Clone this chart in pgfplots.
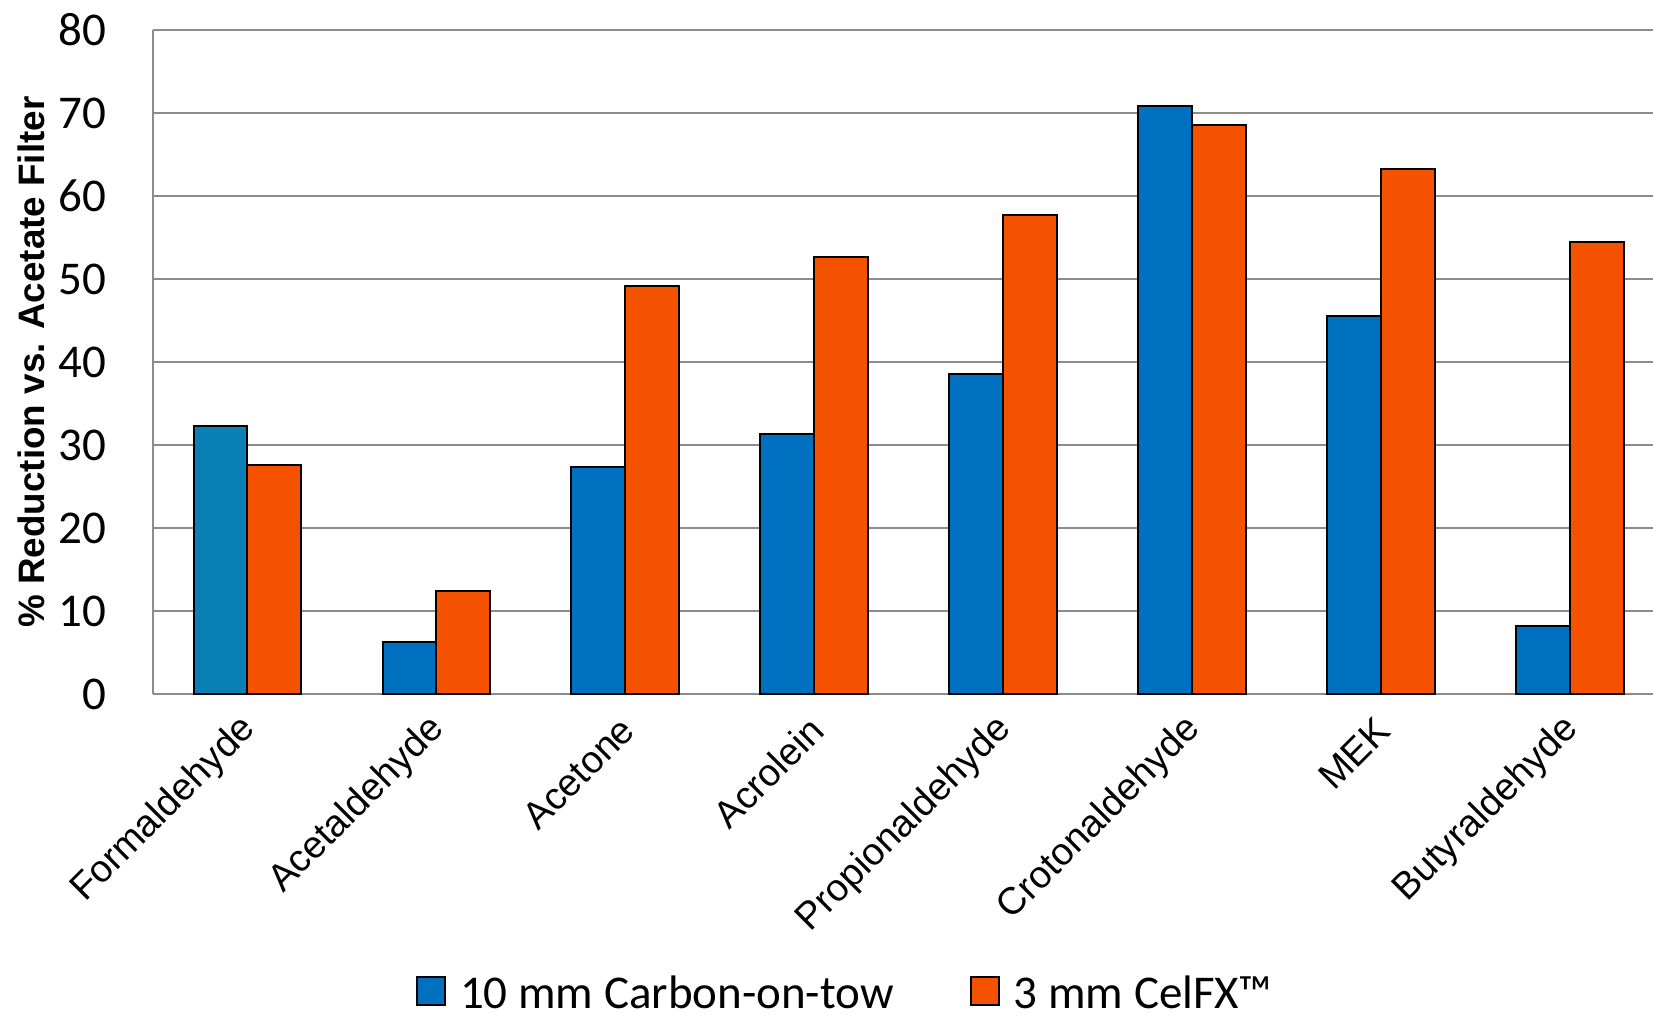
\documentclass[border=0pt]{standalone}
\usepackage{fontspec}
\usepackage{pgfplots}
\pgfplotsset{compat=1.18}
\newfontfamily\carlito{Carlito}
\newfontfamily\arial{Liberation Sans}
\definecolor{cblue}{RGB}{0,112,192}
\definecolor{cblue2}{RGB}{11,128,182}
\definecolor{corange}{RGB}{245,82,0}
\definecolor{gridc}{RGB}{140,140,140}
\begin{document}
\begin{tikzpicture}
\begin{axis}[
 scale only axis, width=750pt, height=332pt,
 xmin=-0.5, xmax=7.44, ymin=0, ymax=80,
 ytick={0,10,...,80},
 xtick={0,...,7},
 xticklabels={Formaldehyde,Acetaldehyde,Acetone,Acrolein,Propionaldehyde,Crotonaldehyde,MEK,Butyraldehyde},
 xticklabel style={rotate=45, anchor=east, font=\arial\fontsize{19}{23}\selectfont, inner sep=0pt, xshift=-9.5pt, yshift=-11.5pt},
 yticklabel style={font=\carlito\fontsize{23.5}{28}\selectfont, /pgf/number format/assume math mode=true, inner sep=0pt, xshift=-23pt, anchor=east},
 ylabel={\% Reduction vs. Acetate Filter},
 ylabel style={font=\arial\bfseries\fontsize{18.4}{22}\selectfont, at={(axis description cs:0,0.5)}, yshift=60.7pt, anchor=center},
 ymajorgrids, major grid style={gridc, line width=1pt},
 axis x line*=bottom, axis y line*=left,
 axis line style={gridc, line width=1pt},
 major tick length=0pt,
 ybar, bar width=0.285,
 legend style={at={(0.462,-0.451)}, anchor=center, legend columns=2, draw=none, fill=none,
   font=\carlito\fontsize{23.5}{28}\selectfont, nodes={inner sep=2pt},
   /tikz/every odd column/.append style={column sep=5pt},
   /tikz/every even column/.append style={column sep=36pt}},
 legend image code/.code={\draw[#1, draw=black, line width=1pt] (0pt,-6pt) rectangle (14pt,8pt);},
]
\addplot[fill=cblue, draw=black, line width=1pt, bar shift=-0.1425] coordinates {(0,32.3) (1,6.3) (2,27.4) (3,31.3) (4,38.5) (5,70.8) (6,45.6) (7,8.2)};
\addplot[fill=corange, draw=black, line width=1pt, bar shift=0.1425] coordinates {(0,27.6) (1,12.4) (2,49.2) (3,52.6) (4,57.7) (5,68.6) (6,63.2) (7,54.4)};
\addplot[fill=cblue2, draw=black, line width=1pt, bar shift=-0.1425, forget plot] coordinates {(0,32.3)};
\legend{10 mm Carbon-on-tow, 3 mm CelFX™}
\end{axis}
\pgfresetboundingbox
\path (-76.5pt,-161.5pt) rectangle (750pt,347pt);
\end{tikzpicture}
\end{document}
